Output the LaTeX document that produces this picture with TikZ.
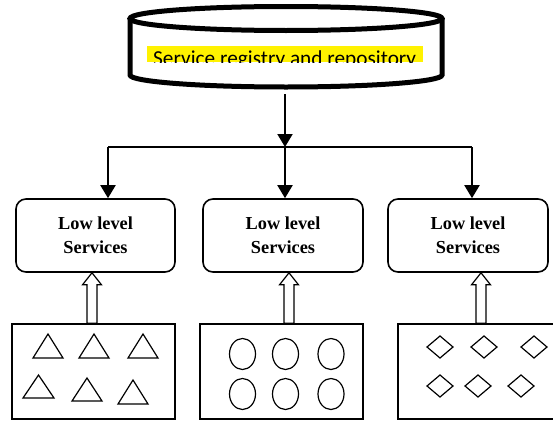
\documentclass[tikz,border=0pt]{standalone}
\usepackage{fontspec}
\setmainfont{Liberation Serif}
\newfontfamily\calib{Carlito}
\usetikzlibrary{arrows.meta,calc}
\tikzset{
  x=1pt,y=-1pt,
  lowbox/.style={draw,line width=1.6pt,rounded corners=10pt,minimum width=159pt,minimum height=73pt,inner sep=0pt,align=center,font=\fontsize{18.3pt}{24pt}\selectfont\bfseries},
  shapebox/.style={draw,line width=1.5pt,minimum width=163pt,minimum height=95pt,inner sep=0pt},
  downarrow/.style={line width=2pt,-{Triangle[length=13pt,width=15pt]}},
  hollow/.style={draw,line width=1.2pt,fill=white,line join=miter},
  fig/.style={line width=1.2pt,line join=miter},
}
\begin{document}
\begin{tikzpicture}
\useasboundingbox (0,0) rectangle (553,423);
\clip (0,0) rectangle (553,423);
\fill[white] (0,0) rectangle (553,423);
% cylinder
\draw[line width=5pt] (286,18.5) ellipse [x radius=156pt, y radius=12pt];
\draw[line width=5pt] (130,18.5) -- (130,75) arc[start angle=180,end angle=360,x radius=156pt,y radius=12pt] -- (442,18.5);
\fill[yellow] (147,46) rectangle (423,62);
\begin{scope}
\clip (147,46) rectangle (423,62);
\node[anchor=base west,inner sep=0pt,font=\calib\fontsize{21.3pt}{24pt}\selectfont] (dbtext) at (153,65.7) {Service registry and repository};
\end{scope}
\coordinate (dbbot) at (285,94);
% upper boxes
\node[lowbox] (b1) at (95.5,235.5) {Low level\\Services};
\node[lowbox,minimum width=160pt] (b2) at (283,235.5) {Low level\\Services};
\node[lowbox,minimum width=160pt] (b3) at (468,235.5) {Low level\\Services};
% connectors
\coordinate (j1) at (108,147);
\coordinate (j2) at (285,147);
\coordinate (j3) at (472,147);
\draw[downarrow] (dbbot) -- (j2);
\draw[line width=1.5pt] (j1) -- (j3);
\draw[downarrow] (j1) -- (j1 |- b1.north);
\draw[downarrow] (j2) -- (j2 |- b2.north);
\draw[downarrow] (j3) -- (j3 |- b3.north);
% lower boxes
\node[shapebox] (c1) at (93.5,371.5) {};
\node[shapebox] (c2) at (281.5,371.5) {};
\node[shapebox] (c3) at (479.5,371.5) {};
% hollow arrows
\foreach \src/\dst/\xx in {c1/b1/92, c2/b2/289, c3/b3/481}{
  \coordinate (hb) at (\xx,0 |- \src.north);
  \coordinate (ht) at (\xx,0 |- \dst.south);
  \draw[hollow] ($(hb)+(-5,0)$) -- ($(ht)+(-5,12)$) -- ($(ht)+(-9.5,12)$) -- (ht) -- ($(ht)+(9.5,12)$) -- ($(ht)+(5,12)$) -- ($(hb)+(5,0)$) -- cycle;
}
% triangles
\foreach \a/\b/\ty/\by in {33/63/334/358, 79/109/334/358, 128/158/334/358, 23/54/375/398, 72/102/378/401, 118/148/380/404}{
  \draw[fig] (\a,\by) -- ({(\a+\b)/2},\ty) -- (\b,\by) -- cycle;
}
% ellipses
\foreach \cx in {242.5,285.5,331}{
  \foreach \cy in {354,394}{
    \draw[fig] (\cx,\cy) ellipse [x radius=13pt, y radius=15.5pt];
  }
}
% diamonds
\foreach \cx/\cy in {440/347, 484/347, 534/347, 440/386, 478/386, 521/386}{
  \draw[fig] (\cx-13,\cy) -- (\cx,\cy-11) -- (\cx+13,\cy) -- (\cx,\cy+11) -- cycle;
}
\end{tikzpicture}
\end{document}
